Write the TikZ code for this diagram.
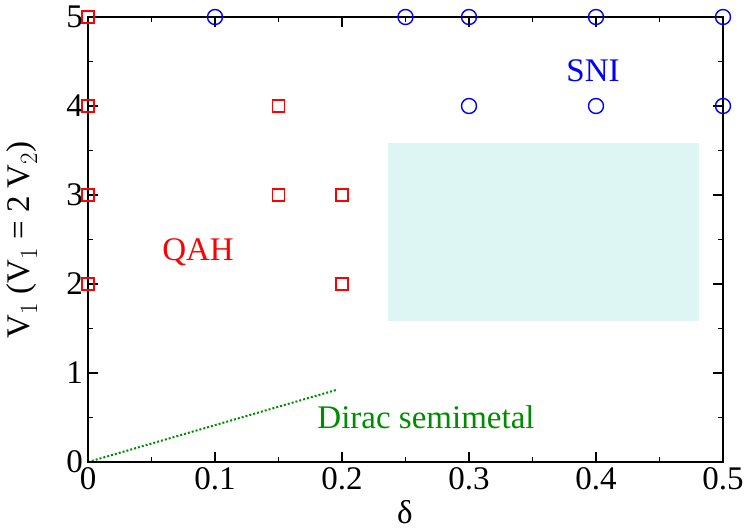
\documentclass[tikz,border=0pt]{standalone}
\usepackage{fontspec}
\setmainfont{Liberation Serif}
\begin{document}
\begin{tikzpicture}[x=1pt,y=-1pt,
 sq/.style={draw=red,line width=1.4pt,minimum size=12pt,inner sep=0pt},
 ci/.style={draw=blue,line width=1.4pt,circle,minimum size=15pt,inner sep=0pt},
 lab/.style={font=\fontsize{33}{36}\selectfont}]
\useasboundingbox (0,0) rectangle (747,530);
\fill[fill={rgb,255:red,222;green,246;blue,243}] (388,143) rectangle (699,321);
\draw[green!55!black,dotted,line width=2pt] (88,462) -- (336,390);
\draw[line width=1.6pt] (88,17) rectangle (723,462);
\foreach \i in {0,...,10}{
 \pgfmathsetmacro\xx{88+63.5*\i}
 \pgfmathsetmacro\ll{mod(\i,2)==0?10:5}
 \draw[line width=1.4pt] (\xx,462) -- ++(0,-\ll) (\xx,17) -- ++(0,\ll);}
\foreach \i in {0,...,10}{
 \pgfmathsetmacro\yy{462-44.5*\i}
 \pgfmathsetmacro\ll{mod(\i,2)==0?10:5}
 \draw[line width=1.4pt] (88,\yy) -- ++(\ll,0) (723,\yy) -- ++(-\ll,0);}
\foreach \v/\t in {0/0,1/0.1,2/0.2,3/0.3,4/0.4,5/0.5}
 \node[lab,anchor=north,inner sep=1pt] (xt\v) at (88+127*\v,466) {\t};
\foreach \v in {0,...,5}
 \node[lab,anchor=east,inner sep=1pt] (yt\v) at (84,462-89*\v) {\v};
\node[lab] (xl) at (405,512) {δ};
\node[lab,rotate=90] (yl) at (22,240) {V$_{\fontsize{24}{26}\selectfont 1}$ (V$_{\fontsize{24}{26}\selectfont 1}$ = 2 V$_{\fontsize{24}{26}\selectfont 2}$)};
\foreach \a/\b in {0/2,0/3,0/4,0/5,0.15/3,0.15/4,0.2/2,0.2/3}
 \node[sq] at ({88+1270*\a},{462-89*\b}) {};
\foreach \a/\b in {0.1/5,0.25/5,0.3/5,0.4/5,0.5/5,0.3/4,0.4/4,0.5/4}
 \node[ci] at ({88+1270*\a},{462-89*\b}) {};
\node[lab,text=red] (qah) at (198,252) {QAH};
\node[lab,text=blue] (sni) at (593,71) {SNI};
\node[lab,text=green!55!black] (dirac) at (426,417) {Dirac semimetal};
\end{tikzpicture}
\end{document}
